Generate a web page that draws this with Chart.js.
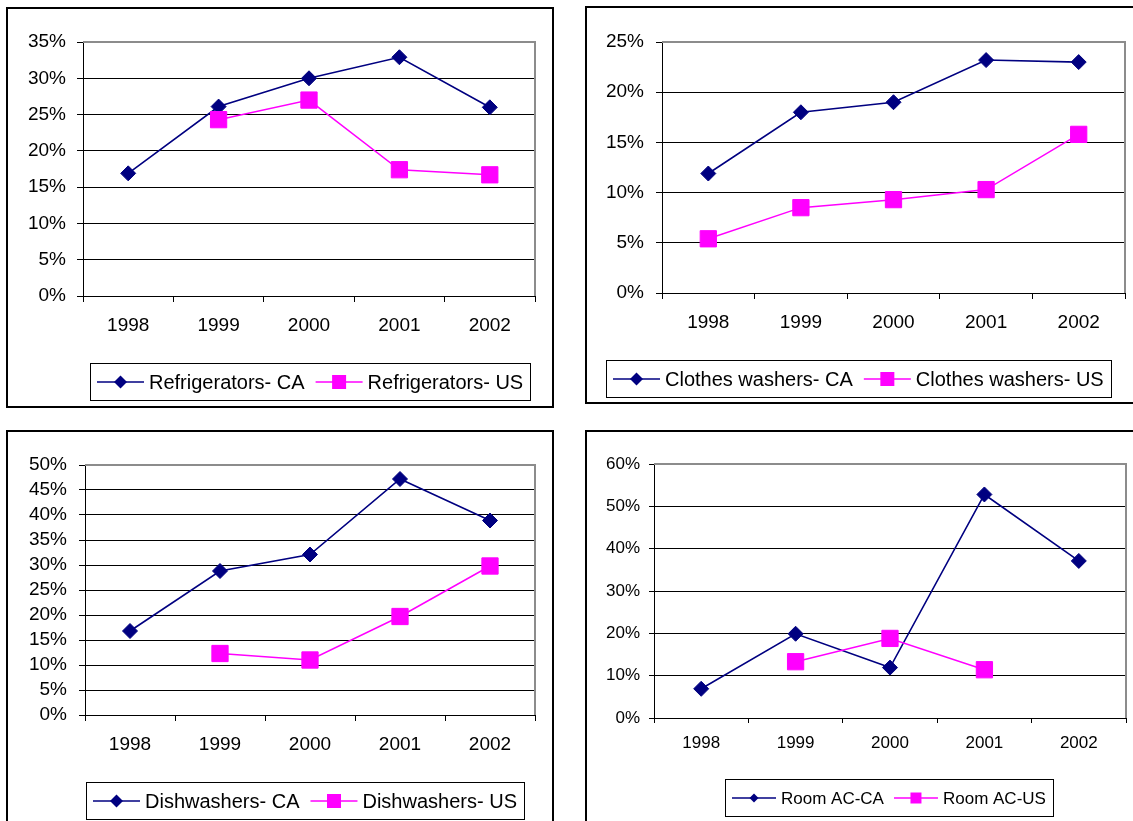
<!DOCTYPE html>
<html>
<head>
<meta charset="utf-8">
<title>Appliance shares, CA vs US, 1998-2002</title>
<script src="https://cdn.jsdelivr.net/npm/chart.js@4.4.1/dist/chart.umd.min.js"></script>
<style>
  html, body { margin: 0; padding: 0; background: #fff; }
  body { width: 1133px; height: 821px; position: relative; overflow: hidden; }
  .panel { position: absolute; border: 2px solid #000; box-sizing: border-box; background: #fff; overflow: hidden; }
  .panel canvas { position: absolute; left: 0; top: 0; }
</style>
</head>
<body>
<div class="panel" id="panel-fridge"><canvas></canvas></div>
<div class="panel" id="panel-washer"><canvas></canvas></div>
<div class="panel" id="panel-dish"><canvas></canvas></div>
<div class="panel" id="panel-roomac"><canvas></canvas></div>
<script>
// market share by year, in percent
const years = ['1998', '1999', '2000', '2001', '2002'];

const fridgeCA = [16.9, 26.1, 30.0, 32.9, 26.0];
const fridgeUS = [null, 24.3, 27.0, 17.4, 16.7];

const washerCA = [11.9, 18.0, 19.0, 23.2, 23.0];
const washerUS = [5.4, 8.5, 9.3, 10.3, 15.8];

const dishCA = [16.8, 28.8, 32.1, 47.2, 38.9];
const dishUS = [null, 12.3, 11.0, 19.7, 29.8];

const roomAcCA = [6.9, 19.9, 11.9, 52.8, 37.1];
const roomAcUS = [null, 13.3, 18.8, 11.4, null];

const CA_COLOR = '#000080';
const US_COLOR = '#FF00FF';
const FONT = "'Liberation Sans', Arial, sans-serif";

// grey top/right edges of the plot area
const plotFrame = {
    id: 'plotFrame',
    beforeDatasetsDraw(chart) {
        const { ctx, chartArea: a } = chart;
        ctx.save();
        ctx.strokeStyle = '#8c8c8c';
        ctx.lineWidth = 2;
        ctx.beginPath();
        ctx.moveTo(a.left, a.top);
        ctx.lineTo(a.right, a.top);
        ctx.lineTo(a.right, a.bottom);
        ctx.stroke();
        ctx.restore();
    }
};

function drawMarker(ctx, style, x, y, size, color) {
    ctx.fillStyle = color;
    ctx.beginPath();
    if (style === 'rectRot') {
        ctx.moveTo(x - size, y);
        ctx.lineTo(x, y - size);
        ctx.lineTo(x + size, y);
        ctx.lineTo(x, y + size);
        ctx.closePath();
    } else {
        ctx.rect(x - size, y - size, size * 2, size * 2);
    }
    ctx.fill();
}

// boxed legend below the plot: line + marker + label per series
const boxLegend = {
    id: 'boxLegend',
    afterDraw(chart, args, opts) {
        const { ctx } = chart;
        ctx.save();
        ctx.font = `${opts.fontSize}px ${FONT}`;
        const items = chart.data.datasets.map(ds => ({
            text: ds.label,
            color: ds.borderColor,
            style: ds.pointStyle,
            w: ctx.measureText(ds.label).width
        }));
        let width = opts.padX * 2 + opts.itemGap * (items.length - 1);
        items.forEach(it => { width += opts.lineLen + opts.textGap + it.w; });

        ctx.strokeStyle = '#000';
        ctx.lineWidth = 1;
        ctx.strokeRect(opts.x + 0.5, opts.y + 0.5, Math.round(width), opts.height);

        const cy = opts.y + opts.height / 2 + 0.5;
        let x = opts.x + opts.padX;
        items.forEach(it => {
            ctx.strokeStyle = it.color;
            ctx.lineWidth = 1.5;
            ctx.beginPath();
            ctx.moveTo(x, cy);
            ctx.lineTo(x + opts.lineLen, cy);
            ctx.stroke();
            const size = it.style === 'rectRot' ? opts.diamond : opts.square;
            drawMarker(ctx, it.style, x + opts.lineLen / 2, cy, size, it.color);
            ctx.fillStyle = '#000';
            ctx.textBaseline = 'middle';
            ctx.fillText(it.text, x + opts.lineLen + opts.textGap, cy + 1);
            x += opts.lineLen + opts.textGap + it.w + opts.itemGap;
        });
        ctx.restore();
    }
};

function buildChart(p) {
    const panel = document.getElementById(p.id);
    Object.assign(panel.style, {
        left: p.frame.x + 'px', top: p.frame.y + 'px',
        width: p.frame.w + 'px', height: p.frame.h + 'px'
    });
    const ox = p.frame.x + 2, oy = p.frame.y + 2;
    const W = p.frame.w - 4, H = p.frame.h - 4;
    const canvas = panel.querySelector('canvas');
    canvas.width = W;
    canvas.height = H;
    canvas.style.width = W + 'px';
    canvas.style.height = H + 'px';

    const yAxisWidth = p.plot.l - ox;
    const padTop = p.plot.t - oy;
    const padRight = W - (p.plot.r - ox);
    const xAxisHeight = H - (p.plot.b - oy);
    const tickFont = { family: FONT, size: p.fontSize };

    return new Chart(canvas, {
        type: 'line',
        data: {
            labels: years,
            datasets: [
                {
                    label: p.labels[0],
                    data: p.ca,
                    borderColor: CA_COLOR,
                    backgroundColor: CA_COLOR,
                    borderWidth: 1.6,
                    pointStyle: 'rectRot',
                    pointRadius: 7.5,
                    pointBorderWidth: 1,
                    pointBorderColor: CA_COLOR,
                    tension: 0,
                    order: 1
                },
                {
                    label: p.labels[1],
                    data: p.us,
                    borderColor: US_COLOR,
                    backgroundColor: US_COLOR,
                    borderWidth: 1.5,
                    pointStyle: 'rect',
                    pointRadius: 11.5,
                    pointBorderWidth: 1,
                    pointBorderColor: US_COLOR,
                    tension: 0,
                    order: 0
                }
            ]
        },
        options: {
            responsive: false,
            animation: false,
            devicePixelRatio: 1,
            events: [],
            layout: { padding: { left: 0, top: padTop, right: padRight, bottom: 0 } },
            plugins: {
                legend: { display: false },
                tooltip: { enabled: false },
                boxLegend: Object.assign({ x: p.legend.x - ox, y: p.legend.y - oy, height: p.legend.h }, p.legendStyle)
            },
            scales: {
                x: {
                    offset: true,
                    grid: {
                        offset: true,
                        drawOnChartArea: false,
                        color: '#000',
                        tickLength: p.tickLength
                    },
                    border: { color: '#000', width: 1 },
                    ticks: { font: tickFont, color: '#000', padding: p.xPad, maxRotation: 0, autoSkip: false },
                    afterFit: s => { s.height = xAxisHeight; }
                },
                y: {
                    min: 0,
                    max: p.max,
                    grid: {
                        color: c => (c.tick && c.tick.value === p.max) ? 'rgba(0,0,0,0)' : '#000',
                        tickColor: '#000',
                        tickLength: p.tickLength
                    },
                    border: { color: '#000', width: 1 },
                    ticks: {
                        stepSize: p.step,
                        autoSkip: false,
                        font: { family: FONT, size: p.fontSize, lineHeight: 1 },
                        color: '#000',
                        padding: p.yPad,
                        callback: v => v + '%'
                    },
                    afterFit: s => { s.width = yAxisWidth; }
                }
            }
        },
        plugins: [plotFrame, boxLegend]
    });
}

const bigLegend = { fontSize: 20, padX: 7, lineLen: 47, textGap: 5, itemGap: 11, diamond: 6.5, square: 7 };
const smallLegend = { fontSize: 17, padX: 7, lineLen: 44, textGap: 5, itemGap: 10, diamond: 4.5, square: 5.5 };

const panels = [
    {
        id: 'panel-fridge', ca: fridgeCA, us: fridgeUS, max: 35, step: 5,
        labels: ['Refrigerators- CA', 'Refrigerators- US'],
        frame: { x: 6, y: 7, w: 548, h: 401 },
        plot: { l: 83, t: 42, r: 535, b: 296 },
        legend: { x: 90, y: 363, h: 37 },
        fontSize: 19, tickLength: 6, yPad: 11, xPad: 12, legendStyle: bigLegend
    },
    {
        id: 'panel-washer', ca: washerCA, us: washerUS, max: 25, step: 5,
        labels: ['Clothes washers- CA', 'Clothes washers- US'],
        frame: { x: 585, y: 6, w: 560, h: 398 },
        plot: { l: 662, t: 42, r: 1125, b: 293 },
        legend: { x: 606, y: 360, h: 37 },
        fontSize: 19, tickLength: 6, yPad: 12, xPad: 12, legendStyle: bigLegend
    },
    {
        id: 'panel-dish', ca: dishCA, us: dishUS, max: 50, step: 5,
        labels: ['Dishwashers- CA', 'Dishwashers- US'],
        frame: { x: 6, y: 430, w: 548, h: 400 },
        plot: { l: 85, t: 465, r: 535, b: 715 },
        legend: { x: 86, y: 782, h: 37 },
        fontSize: 19, tickLength: 6, yPad: 12, xPad: 12, legendStyle: bigLegend
    },
    {
        id: 'panel-roomac', ca: roomAcCA, us: roomAcUS, max: 60, step: 10,
        labels: ['Room AC-CA', 'Room AC-US'],
        frame: { x: 585, y: 430, w: 560, h: 400 },
        plot: { l: 654, t: 464, r: 1126, b: 718 },
        legend: { x: 725, y: 779, h: 37 },
        fontSize: 17, tickLength: 5, yPad: 9, xPad: 10, legendStyle: smallLegend
    }
];

panels.forEach(buildChart);
</script>
</body>
</html>
